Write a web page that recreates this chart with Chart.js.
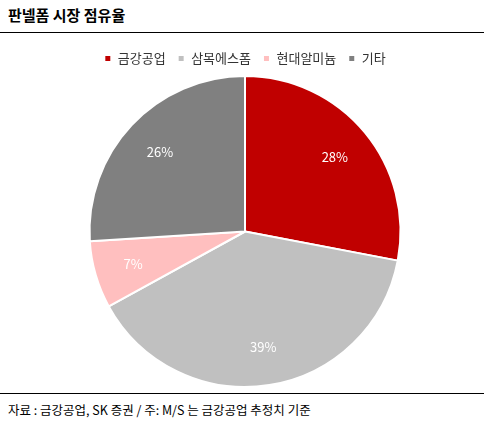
<!DOCTYPE html>
<html><head><meta charset="utf-8">
<script src="https://cdn.jsdelivr.net/npm/chart.js"></script>
<style>
body{margin:0;width:484px;height:426px;background:#fff;font-family:"Noto Sans CJK KR","Noto Sans",sans-serif;position:relative;overflow:hidden}
#t{position:absolute;left:8px;top:4px;font-size:15px;font-weight:bold;color:#000}
#l1{position:absolute;left:0;top:32px;width:484px;border-top:1px solid #000}
#l2{position:absolute;left:0;top:393px;width:484px;border-top:1px solid #000}
#f{position:absolute;left:8px;top:400px;font-size:12.5px;color:#000}
#c{position:absolute;left:0;top:36px;width:484px;height:356px}
</style></head><body>
<div id="t">판넬폼 시장 점유율</div><div id="l1"></div>
<div id="c"><canvas id="cv"></canvas></div>
<div id="l2"></div>
<div id="f">자료 : 금강공업, SK 증권 / 주: M/S 는 금강공업 추정치 기준</div>
<script>
const categories=["금강공업","삼목에스폼","현대알미늄","기타"];
const values=[28,39,7,26];
const colors=["#C00000","#C0C0C0","#FFBFBF","#808080"];
const lbl={id:'lbl',afterDatasetsDraw(ch){const c=ch.ctx;const m=ch.getDatasetMeta(0);
c.save();c.fillStyle='#fff';c.font='13px "Noto Sans CJK KR"';c.textAlign='center';c.textBaseline='middle';
m.data.forEach((a,i)=>{const ang=(a.startAngle+a.endAngle)/2;const r=a.outerRadius*0.75;
c.fillText(values[i]+'%',a.x+Math.cos(ang)*r,a.y+Math.sin(ang)*r);});c.restore();}};
new Chart(document.getElementById('cv'),{type:'pie',data:{labels:categories,datasets:[{data:values,backgroundColor:colors,borderColor:'#fff',borderWidth:2}]},
options:{responsive:true,maintainAspectRatio:false,animation:false,layout:{padding:{top:4,bottom:4,left:6}},
plugins:{tooltip:{enabled:false},legend:{position:'top',labels:{boxWidth:7,boxHeight:7,color:'#333',font:{size:13,family:'"Noto Sans CJK KR"'},padding:12}}}},plugins:[lbl]});
</script></body></html>
